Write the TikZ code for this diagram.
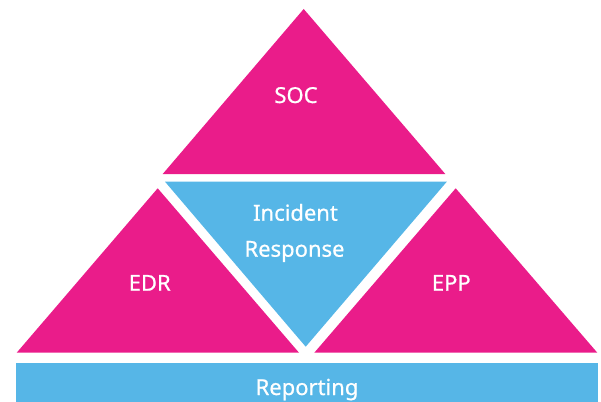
\documentclass[tikz,border=0pt]{standalone}
\usepackage{fontspec}
\setmainfont{Noto Sans}
\newfontfamily\lblfont{Noto Sans}[FakeBold=0.7]
\definecolor{pinkc}{RGB}{234,28,138}
\definecolor{bluec}{RGB}{86,182,231}
\begin{document}
\begin{tikzpicture}[x=1pt,y=-1pt,
  lbl/.style={text=white,font=\lblfont\fontsize{22}{36}\selectfont,anchor=base,inner sep=0pt}]
\useasboundingbox (0,0) rectangle (601,401);
% top triangle SOC
\fill[pinkc] (303.7,9) -- (445.3,174) -- (162.7,174) -- cycle;
% inverted blue triangle
\fill[bluec] (165,181.7) -- (446.8,181.7) -- (305.7,346.7) -- cycle;
% EDR
\fill[pinkc] (157.7,188.3) -- (299,352.7) -- (16.7,352.7) -- cycle;
% EPP
\fill[pinkc] (455.7,188.3) -- (597.3,352.7) -- (314.3,352.7) -- cycle;
% Reporting bar
\fill[bluec] (16,362.7) rectangle (598.3,405);
\node[lbl] (soc) at (296,103) {SOC};
\node[lbl] (ir1) at (295.5,220.7) {Incident};
\node[lbl] (ir2) at (294.5,256.7) {Response};
\node[lbl] (edr) at (149.7,290.7) {EDR};
\node[lbl] (epp) at (451.3,290.7) {EPP};
\node[lbl] (rep) at (307,395) {Reporting};
\end{tikzpicture}
\end{document}
